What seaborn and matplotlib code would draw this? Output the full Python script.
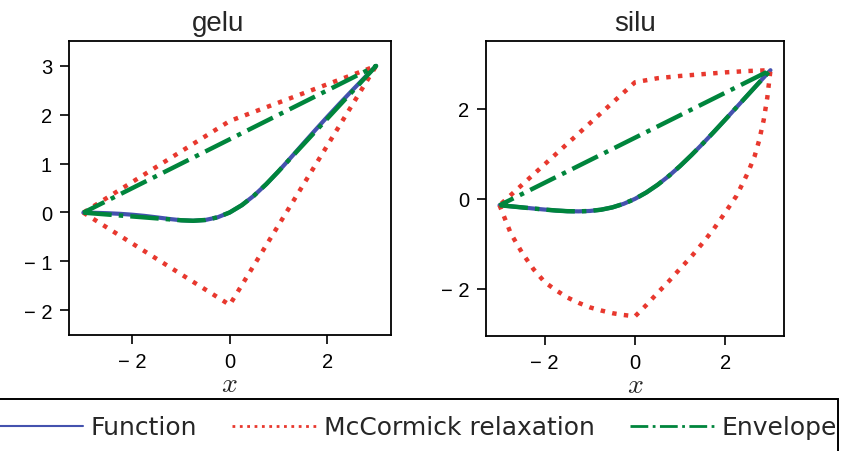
import matplotlib.pyplot as plt
import matplotlib.ticker as mticker
from matplotlib.lines import Line2D
from matplotlib.patches import Rectangle
import seaborn as sns

# sample points
grid_x = [-3, -2.75, -2.5, -2.25, -2, -1.75, -1.5, -1.25, -1, -0.75, -0.5, -0.25, 0,
          0.25, 0.5, 0.75, 1, 1.25, 1.5, 1.75, 2, 2.25, 2.5, 2.75, 3]
gelu_y = [-0.004, -0.008, -0.016, -0.028, -0.046, -0.070, -0.100, -0.132, -0.159, -0.170,
          -0.154, -0.100, 0.0, 0.150, 0.346, 0.580, 0.841, 1.118, 1.400, 1.680, 1.955,
          2.223, 2.485, 2.742, 2.996]
silu_y = [-0.142, -0.165, -0.190, -0.215, -0.238, -0.259, -0.274, -0.278, -0.269, -0.241,
          -0.189, -0.110, 0.0, 0.141, 0.311, 0.509, 0.731, 0.972, 1.226, 1.491, 1.762,
          2.036, 2.310, 2.585, 2.858]

# gelu relaxations
gelu_env_lo_x = [-3, -0.98, -0.75, -0.5, -0.25, 0, 0.25, 0.5, 0.75, 0.98, 3]
gelu_env_lo_y = [-0.004, -0.161, -0.170, -0.154, -0.100, 0.0, 0.150, 0.346, 0.580, 0.820, 2.996]
gelu_env_up_x = [3, -3]
gelu_env_up_y = [2.996, -0.004]
gelu_mc_lo_x = [-3, 0, 3]
gelu_mc_lo_y = [-0.004, -1.89, 2.996]
gelu_mc_up_x = [3, 0, -3]
gelu_mc_up_y = [2.996, 1.87, -0.004]

# silu relaxations
silu_env_lo_x = [-3, -2.1, -2, -1.75, -1.5, -1.25, -1, -0.75, -0.5, -0.25, 0,
                 0.25, 0.5, 0.75, 1, 1.25, 1.5, 1.75, 2, 3]
silu_env_lo_y = [-0.142, -0.229, -0.238, -0.259, -0.274, -0.278, -0.269, -0.241, -0.189, -0.110, 0.0,
                 0.141, 0.311, 0.509, 0.731, 0.972, 1.226, 1.491, 1.762, 2.858]
silu_env_up_x = [3, -3]
silu_env_up_y = [2.858, -0.142]
silu_mc_lo_x = [-3, -2.75, -2.5, -2.25, -2, -1.75, -1.5, -1.25, -1, -0.75, -0.5, -0.25, 0,
                0.25, 0.5, 0.75, 1, 1.25, 1.5, 1.75, 2, 2.25, 2.5, 2.65, 2.75, 2.85, 2.93, 3]
silu_mc_lo_y = [-0.142, -0.77, -1.20, -1.56, -1.85, -2.03, -2.19, -2.31, -2.41, -2.48, -2.54, -2.58, -2.61,
                -2.36, -2.09, -1.83, -1.55, -1.28, -0.98, -0.66, -0.30, 0.07, 0.58, 0.95, 1.30, 1.75, 2.25, 2.858]
silu_mc_up_x = [3, 2.5, 2, 1.5, 1, 0.5, 0, -3]
silu_mc_up_y = [2.858, 2.84, 2.81, 2.77, 2.73, 2.68, 2.59, -0.142]

titles = ["gelu", "silu"]
legend_labels = ["Function", "McCormick relaxation", "Envelope"]

C_FUNC = "#4452AE"
C_MC = "#E8382E"
C_ENV = "#00853C"

sns.set_theme(style="ticks")
plt.rcParams["font.family"] = ["Liberation Sans", "DejaVu Sans"]
plt.rcParams["mathtext.fontset"] = "cm"


def neg_fmt(v, pos):
    return f"\u2212 {abs(v):g}" if v < 0 else f"{v:g}"


def path(ax, x, y, **kw):
    sns.lineplot(x=x, y=y, sort=False, estimator=None, legend=False, ax=ax, **kw)


fig = plt.figure(figsize=(8.43, 4.52), dpi=100)
ax_g = fig.add_axes([68.7 / 843, 1 - 335.7 / 452, 322 / 843, 293.4 / 452])
ax_s = fig.add_axes([486 / 843, 1 - 336.7 / 452, 298 / 843, 294.4 / 452])

panels = [
    (ax_g, gelu_y, gelu_mc_lo_x + gelu_mc_up_x, gelu_mc_lo_y + gelu_mc_up_y,
     gelu_env_lo_x + gelu_env_up_x, gelu_env_lo_y + gelu_env_up_y, (-2.5, 3.5), [-2, -1, 0, 1, 2, 3], 0.464),
    (ax_s, silu_y, silu_mc_lo_x + silu_mc_up_x, silu_mc_lo_y + silu_mc_up_y,
     silu_env_lo_x + silu_env_up_x, silu_env_lo_y + silu_env_up_y, (-3.04, 3.5), [-2, 0, 2], 0.5),
]

for (ax, fy, mcx, mcy, envx, envy, ylim, yticks, tx), name in zip(panels, titles):
    path(ax, grid_x, fy, color=C_FUNC, lw=3)
    path(ax, mcx, mcy, color=C_MC, lw=3.2, linestyle=":")
    path(ax, envx, envy, color=C_ENV, lw=3.2, linestyle="-.")

    ax.set_xlim(-3.3, 3.3)
    ax.set_ylim(*ylim)
    ax.set_xticks([-2, 0, 2])
    ax.set_yticks(yticks)
    ax.xaxis.set_major_formatter(mticker.FuncFormatter(neg_fmt))
    ax.yaxis.set_major_formatter(mticker.FuncFormatter(neg_fmt))
    ax.tick_params(axis="both", labelsize=14.5, length=6.5, width=1.2, color="black", labelcolor="black")
    ax.tick_params(axis="x", pad=6)
    ax.tick_params(axis="y", pad=5.5)
    for sp in ax.spines.values():
        sp.set_visible(True)
        sp.set_color("black")
        sp.set_linewidth(1.3)
    ax.set_title(name, fontsize=20, pad=8, x=tx)
    ax.set_xlabel("$x$", fontsize=20, labelpad=0)
    ax.set_ylabel(None)

handles = [
    Line2D([], [], color=C_FUNC, lw=1.5),
    Line2D([], [], color=C_MC, lw=2, linestyle=":"),
    Line2D([], [], color=C_ENV, lw=2, linestyle="-."),
]
fig.legend(handles, legend_labels, loc="center", bbox_to_anchor=(418 / 843, 1 - 428.5 / 452),
           ncol=3, frameon=False, handlelength=3.36, handletextpad=0.3, columnspacing=1.4,
           prop={"family": "DejaVu Sans", "size": 18})
fig.add_artist(Rectangle((-0.02, -0.1), 0.02 + 838.5 / 843, 0.1 + 1 - 400.5 / 452,
                         transform=fig.transFigure, fill=False, ec="black", lw=1.4))

fig.savefig("out.png", dpi=100)
